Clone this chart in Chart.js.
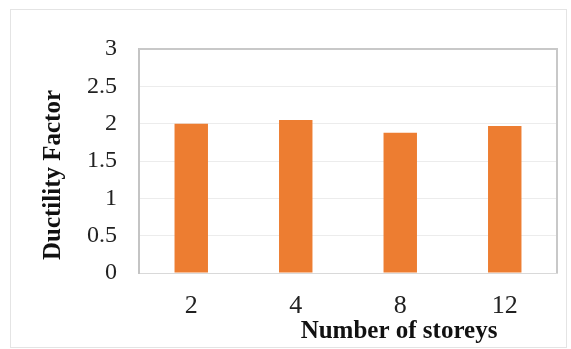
<!DOCTYPE html>
<html>
<head>
<meta charset="utf-8">
<script src="https://cdn.jsdelivr.net/npm/chart.js@4"></script>
<style>
  body { margin: 0; background: #fff; }
  #wrap { position: relative; width: 571px; height: 349px; }
  #frame { position: absolute; left: 10px; top: 9px; width: 555px; height: 337px; border: 1px solid #e4e4e4; }
  canvas { position: absolute; left: 0; top: 0; }
</style>
</head>
<body>
<div id="wrap">
  <div id="frame"></div>
  <canvas id="ductChart" width="571" height="349"></canvas>
</div>
<script>
var storeys = ["2", "4", "8", "12"];
var ductility = [2.0, 2.05, 1.88, 1.97];
var yTicks = [0, 0.5, 1, 1.5, 2, 2.5, 3];
var xTitle = "Number of storeys";
var yTitle = "Ductility Factor";

// titles are drawn by hand, the excel original doesn't center them on the plot
var titlesPlugin = {
  id: 'titles',
  afterDraw: function(chart) {
    var c = chart.ctx;
    var a = chart.chartArea;
    c.save();
    // top and right border of the plot box
    c.strokeStyle = '#c8c8c8';
    c.lineWidth = 2;
    c.beginPath();
    c.moveTo(a.left, a.top);
    c.lineTo(a.right, a.top);
    c.lineTo(a.right, a.bottom);
    c.stroke();

    c.fillStyle = '#111';
    c.font = 'bold 25px "Liberation Serif"';
    c.textAlign = 'center';
    c.textBaseline = 'alphabetic';
    c.fillText(xTitle, a.left + 260, 338);

    c.translate(60, 175);
    c.rotate(-Math.PI / 2);
    c.fillText(yTitle, 0, 0);
    c.restore();
  }
};

var ctx = document.getElementById("ductChart").getContext('2d');
var ductChart = new Chart(ctx, {
  type: 'bar',
  data: {
    labels: storeys,
    datasets: [{
      data: ductility,
      backgroundColor: "#ed7d31",
      categoryPercentage: 1,
      barPercentage: 0.32
    }]
  },
  options: {
    responsive: false,
    animation: false,
    layout: { padding: { left: 0, top: 49, right: 14, bottom: 0 } },
    plugins: { legend: { display: false }, tooltip: { enabled: false } },
    scales: {
      x: {
        grid: { display: false },
        border: { color: '#d9d9d9', width: 1 },
        ticks: { color: '#222', padding: 10, font: { family: 'Liberation Serif', size: 26 } },
        afterFit: function(scale) { scale.height = 76; }
      },
      y: {
        min: 0,
        max: 3,
        afterBuildTicks: function(scale) {
          scale.ticks = yTicks.map(function(v) { return { value: v }; });
        },
        grid: { color: '#ececec', drawTicks: false },
        border: { color: '#c4c4c4', width: 2 },
        ticks: {
          color: '#222',
          padding: 22,
          font: { family: 'Liberation Serif', size: 24 },
          callback: function(v) { return String(v); }
        },
        afterFit: function(scale) { scale.width = 139; }
      }
    }
  },
  plugins: [titlesPlugin]
});
</script>
</body>
</html>
